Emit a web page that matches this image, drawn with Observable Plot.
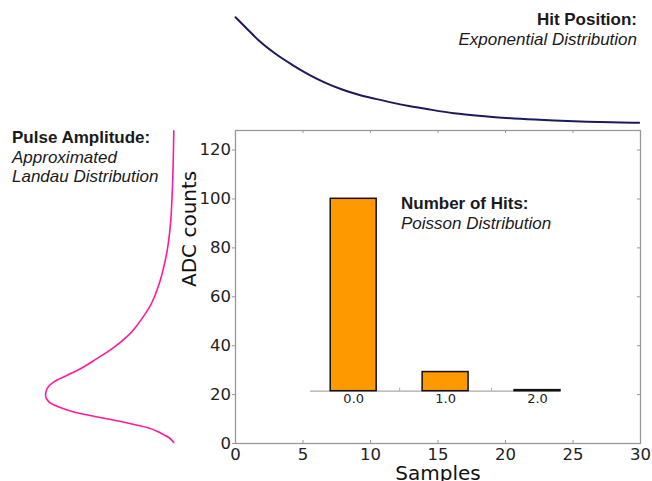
<!DOCTYPE html>
<html>
<head>
<meta charset="utf-8">
<script src="https://cdn.jsdelivr.net/npm/d3@7"></script>
<script src="https://cdn.jsdelivr.net/npm/@observablehq/plot@0.6"></script>
<style>
  html, body { margin: 0; padding: 0; background: #fff; }
  #chart { position: relative; width: 652px; height: 481px; overflow: hidden; background: #fff; }
  #chart svg { position: absolute; left: 0; top: 0; }
  .note { position: absolute; font-family: "Liberation Sans", Arial, sans-serif; font-size: 17px;
          line-height: 19.5px; color: #1a1a1a; white-space: nowrap; }
  .note b { font-weight: bold; display: block; }
  .note i { font-style: italic; display: block; }
</style>
</head>
<body>
<div id="chart">
  <div class="note" style="right:15px; top:10.4px; text-align:right;"><b>Hit Position:</b><i>Exponential Distribution</i></div>
  <div class="note" style="left:12px; top:128.4px;"><b>Pulse Amplitude:</b><i>Approximated</i><i>Landau Distribution</i></div>
  <div class="note" style="left:401px; top:194.4px;"><b>Number of Hits:</b><i>Poisson Distribution</i></div>
</div>
<script>
// Main axes ticks
const sampleTicks = [0, 5, 10, 15, 20, 25, 30];
const adcTicks = [0, 20, 40, 60, 80, 100, 120];

// Number of hits per sample window (Poisson)
const hitCounts = [0, 1, 2];
const hitProb = [0.905, 0.090, 0.005];

// Hit position along the sample axis (exponential fall-off, relative density)
const expSamples = [0, 0.74, 1.73, 2.96, 4.2, 5.43, 6.67, 7.9, 9.13, 10.37, 11.6, 12.84, 14.07, 16.17, 18.64, 21.1, 23.6, 26.05, 28.5, 29.9];
const expDensity = [1.000, 0.912, 0.794, 0.677, 0.580, 0.494, 0.421, 0.362, 0.315, 0.279, 0.246, 0.217, 0.192, 0.152, 0.124, 0.103, 0.088, 0.077, 0.071, 0.068];

// Pulse amplitude in ADC counts (approximated Landau, relative density)
const landauAdc = [0.4, 2.45, 4.33, 6.53, 8.41, 10.6, 12.9, 14.9, 17.0, 19.7, 22.5, 25.2, 27.9, 30.6, 34.7, 38.8, 44.2, 48.3, 52.4, 56.5, 61.2, 66.7, 70.1, 78.2, 89.1, 102.7, 116.4, 127.9];
const landauDensity = [0, 0.039, 0.104, 0.207, 0.363, 0.571, 0.779, 0.896, 0.974, 1.000, 0.987, 0.935, 0.831, 0.727, 0.600, 0.480, 0.355, 0.287, 0.231, 0.182, 0.142, 0.106, 0.088, 0.054, 0.027, 0.012, 0.004, 0];

(() => {
  const hits = hitCounts.map((n, i) => ({n, p: hitProb[i]}));
  const hitPos = expSamples.map((s, i) => ({sample: s, density: expDensity[i]}));
  const landau = landauAdc.map((a, i) => ({adc: a, density: landauDensity[i]}));

  const W = 652, H = 481;
  const box = {left: 235, right: 640, top: 130, bottom: 443};
  const innerW = box.right - box.left, innerH = box.bottom - box.top;
  const spine = "#999";
  const clear = {background: "transparent", overflow: "visible"};
  const chart = document.getElementById("chart");

  // Main axes: samples vs ADC counts
  const mainPlot = Plot.plot({
    width: W, height: H,
    marginLeft: box.left, marginRight: W - box.right, marginTop: box.top, marginBottom: H - box.bottom,
    style: {...clear, fontFamily: "DejaVu Sans", color: "#222"},
    x: {domain: [0, 30]},
    y: {domain: [0, 128]},
    marks: [
      Plot.frame({stroke: spine, strokeWidth: 1.3}),
      Plot.axisY(adcTicks, {anchor: "left", tickSize: 3, tickPadding: 1.5, stroke: spine, fill: "#222",
        fontSize: 16.5, fontFamily: "DejaVu Sans", label: null}),
      Plot.axisX(sampleTicks, {anchor: "bottom", tickSize: 0, tickPadding: 5, fill: "#222",
        fontSize: 16.5, fontFamily: "DejaVu Sans", label: null}),
      Plot.tickX(sampleTicks, {x: d => d, insetTop: innerH - 3, stroke: spine}),
      Plot.tickX(sampleTicks, {x: d => d, insetBottom: innerH - 3, stroke: spine}),
      Plot.tickY(adcTicks, {y: d => d, insetLeft: innerW - 3, stroke: spine}),
      Plot.text(["Samples"], {frameAnchor: "bottom", lineAnchor: "top", dy: 22, fontSize: 20,
        fontFamily: "DejaVu Sans", fill: "#111"}),
      Plot.text(["ADC counts"], {frameAnchor: "left", lineAnchor: "top", rotate: -90, dx: -53.6, fontSize: 20,
        fontFamily: "DejaVu Sans", fill: "#111"})
    ]
  });
  chart.prepend(mainPlot);

  // Hit position curve above the main axes, sharing the sample scale
  const hitPlot = Plot.plot({
    width: W, height: box.top,
    marginLeft: box.left, marginRight: W - box.right, marginTop: 16.7, marginBottom: 0,
    style: clear,
    x: {domain: [0, 30], axis: null},
    y: {domain: [0, 1], axis: null},
    marks: [
      Plot.line(hitPos, {x: "sample", y: "density", stroke: "#1b1b5c", strokeWidth: 2, curve: "monotone-x"})
    ]
  });
  chart.append(hitPlot);

  // Pulse amplitude curve to the left, sharing the ADC scale
  const pulsePlot = Plot.plot({
    width: 180, height: H,
    marginLeft: 45, marginRight: 180 - 173.3, marginTop: box.top, marginBottom: H - box.bottom,
    style: clear,
    x: {domain: [0, 1], reverse: true, axis: null},
    y: {domain: [0, 128], axis: null},
    marks: [
      Plot.line(landau, {x: "density", y: "adc", stroke: "#ff1a9c", strokeWidth: 1.6, curve: "monotone-y"})
    ]
  });
  chart.append(pulsePlot);

  // Inset: number of hits
  const insetPlot = Plot.plot({
    width: W, height: H,
    marginLeft: 310, marginRight: W - 560, marginTop: 198.3, marginBottom: H - 390.7,
    style: {...clear, fontFamily: "DejaVu Sans"},
    x: {domain: [-0.47, 2.25]},
    y: {domain: [0, 0.905], axis: null},
    marks: [
      Plot.ruleY([0], {stroke: "#aaa", strokeWidth: 1.3}),
      Plot.tickX([0.5, 1.5], {x: d => d, insetTop: (390.7 - 198.3) - 3, stroke: "#aaa"}),
      Plot.rectY(hits, {x1: d => d.n - 0.25, x2: d => d.n + 0.25, y1: 0, y2: "p",
        fill: "#ff9900", stroke: "#111", strokeWidth: 1.5}),
      Plot.axisX(hitCounts, {anchor: "bottom", tickSize: 0, tickPadding: 2.6, tickFormat: d3.format(".1f"),
        fill: "#222", fontSize: 13, fontFamily: "DejaVu Sans", label: null})
    ]
  });
  chart.append(insetPlot);
})();
</script>
</body>
</html>
